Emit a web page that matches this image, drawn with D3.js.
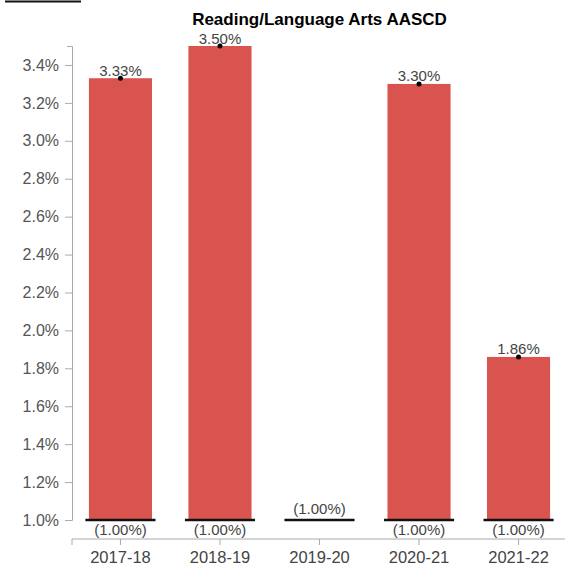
<!DOCTYPE html>
<html>
<head>
<meta charset="utf-8">
<script src="https://cdn.jsdelivr.net/npm/d3@7"></script>
<style>
  html, body { margin: 0; padding: 0; background: #fff; }
  svg { display: block; font-family: Arial, "Liberation Sans", sans-serif; }
</style>
</head>
<body>
<svg id="chart" width="565" height="568"></svg>
<script>
// School years on the x axis
const years = ["2017-18", "2018-19", "2019-20", "2020-21", "2021-22"];
// Rate for each year (percent); 2019-20 has no reported value
const rates = [3.33, 3.50, null, 3.30, 1.86];
// Floor marker for each year (percent)
const floors = [1.00, 1.00, 1.00, 1.00, 1.00];
// Y axis tick values (percent)
const yTicks = [1.0, 1.2, 1.4, 1.6, 1.8, 2.0, 2.2, 2.4, 2.6, 2.8, 3.0, 3.2, 3.4];

const chartTitle = "Reading/Language Arts AASCD";

const svg = d3.select("#chart");
const plotLeft = 72, plotRight = 567, plotTop = 46, plotBottom = 520, xAxisY = 539;

const x = d3.scaleBand()
  .domain(years)
  .range([plotLeft, plotRight])
  .paddingInner(0.366)
  .paddingOuter(0.17);

const y = d3.scaleLinear()
  .domain([1.0, 3.5])
  .range([plotBottom, plotTop]);

const fmt = v => v.toFixed(2) + "%";

// small rule in the top-left corner
svg.append("line")
  .attr("x1", 5).attr("x2", 81)
  .attr("y1", 1.5).attr("y2", 1.5)
  .attr("stroke", "#111").attr("stroke-width", 2);

// title
svg.append("text")
  .attr("x", (plotLeft + plotRight) / 2)
  .attr("y", 25)
  .attr("text-anchor", "middle")
  .attr("font-weight", "bold")
  .attr("font-size", 17)
  .attr("fill", "#000")
  .text(chartTitle);

// y axis
const yAxis = svg.append("g")
  .attr("transform", `translate(${plotLeft},0)`)
  .call(d3.axisLeft(y)
    .tickValues(yTicks)
    .tickFormat(d => d.toFixed(1) + "%")
    .tickSizeInner(7)
    .tickSizeOuter(5)
    .tickPadding(6));
yAxis.selectAll("path, line").attr("stroke", "#aaa");
yAxis.selectAll("text").attr("font-size", 16).attr("fill", "#555");

// x axis
const xAxis = svg.append("g")
  .attr("transform", `translate(0,${xAxisY})`)
  .call(d3.axisBottom(x)
    .tickSizeInner(6)
    .tickSizeOuter(6)
    .tickPadding(6));
xAxis.select(".domain").attr("d", `M${plotLeft},6V0H565`);
xAxis.selectAll("path, line").attr("stroke", "#aaa");
xAxis.selectAll("text").attr("font-size", 16.5).attr("fill", "#444");

const data = years.map((yr, i) => ({ year: yr, rate: rates[i], floor: floors[i] }));
const withRate = data.filter(d => d.rate !== null);

// bars from the floor up to the rate
svg.append("g").selectAll("rect")
  .data(withRate)
  .join("rect")
  .attr("x", d => x(d.year))
  .attr("width", x.bandwidth())
  .attr("y", d => y(d.rate))
  .attr("height", d => y(d.floor) - y(d.rate))
  .attr("fill", "#d9534f");

// floor markers
const extra = 3.5;
svg.append("g").selectAll("line")
  .data(data)
  .join("line")
  .attr("x1", d => x(d.year) - extra)
  .attr("x2", d => x(d.year) + x.bandwidth() + extra)
  .attr("y1", d => y(d.floor))
  .attr("y2", d => y(d.floor))
  .attr("stroke", "#111")
  .attr("stroke-width", 2.5);

// floor labels: below the marker, or above it when there is no bar
svg.append("g").selectAll("text")
  .data(data)
  .join("text")
  .attr("x", d => x(d.year) + x.bandwidth() / 2)
  .attr("y", d => d.rate === null ? y(d.floor) - 6 : y(d.floor) + 15)
  .attr("text-anchor", "middle")
  .attr("font-size", 15)
  .attr("fill", "#444")
  .text(d => "(" + fmt(d.floor) + ")");

// rate dots
svg.append("g").selectAll("circle")
  .data(withRate)
  .join("circle")
  .attr("cx", d => x(d.year) + x.bandwidth() / 2)
  .attr("cy", d => y(d.rate))
  .attr("r", 2.5)
  .attr("fill", "#000");

// rate labels
svg.append("g").selectAll("text")
  .data(withRate)
  .join("text")
  .attr("x", d => x(d.year) + x.bandwidth() / 2)
  .attr("y", d => y(d.rate) - 2.5)
  .attr("text-anchor", "middle")
  .attr("font-size", 15)
  .attr("fill", "#444")
  .text(d => fmt(d.rate));
</script>
</body>
</html>
